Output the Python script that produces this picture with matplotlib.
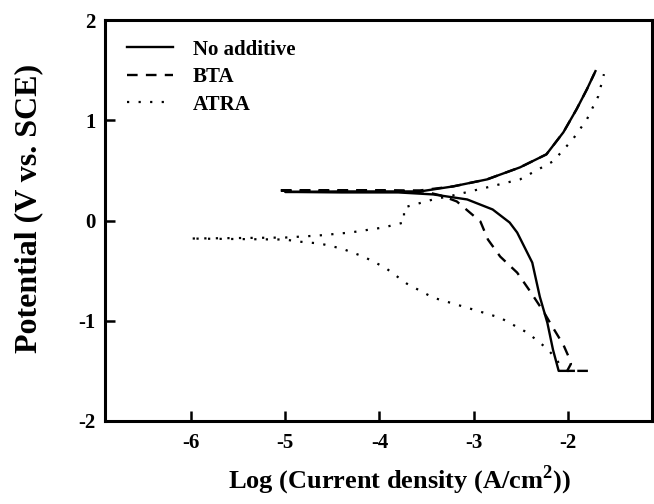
import matplotlib
matplotlib.use("Agg")
import matplotlib.pyplot as plt

# Tafel curves: log(i) [A/cm2], potential [V vs SCE]
noadd_x = [-1.94, -2.10, -2.16, -2.22, -2.30, -2.38, -2.54, -2.62, -2.80, -3.07,
           -3.43, -3.80, -4.40, -5.00, -4.40, -4.00, -3.57, -3.22, -2.86, -2.51,
           -2.23, -2.05, -1.91, -1.80, -1.71]
noadd_y = [-1.50, -1.50, -1.29, -1.02, -0.76, -0.42, -0.12, -0.02, 0.11, 0.21,
           0.26, 0.28, 0.28, 0.285, 0.29, 0.29, 0.29, 0.34, 0.41, 0.53,
           0.66, 0.88, 1.11, 1.31, 1.49]

bta_x = [-1.79, -2.01, -1.97, -1.98, -2.05, -2.16, -2.26, -2.40, -2.54, -2.72,
         -2.85, -2.93, -3.18, -3.35, -3.53, -4.30, -5.09, -4.30, -3.57, -3.22,
         -2.86, -2.51, -2.23, -2.05, -1.91, -1.80, -1.72]
bta_y = [-1.50, -1.50, -1.43, -1.39, -1.24, -1.07, -0.91, -0.71, -0.52, -0.36,
         -0.19, -0.01, 0.19, 0.25, 0.29, 0.30, 0.30, 0.30, 0.30, 0.34,
         0.41, 0.53, 0.66, 0.88, 1.11, 1.31, 1.47]

atra_x = [-2.10, -2.12, -2.22, -2.43, -2.72, -3.07, -3.43, -3.71, -3.94, -4.17,
          -4.40, -4.63, -4.86, -5.00, -6.01, -5.00, -4.65, -4.31, -3.96, -3.74,
          -3.74, -3.43, -3.22, -2.86, -2.51, -2.16, -1.95, -1.80, -1.68, -1.62]
atra_y = [-1.42, -1.39, -1.28, -1.12, -0.97, -0.87, -0.77, -0.63, -0.47, -0.36,
          -0.28, -0.23, -0.21, -0.19, -0.18, -0.17, -0.15, -0.12, -0.07, -0.02,
          0.13, 0.21, 0.25, 0.33, 0.41, 0.59, 0.81, 1.01, 1.24, 1.46]

labels = ["No additive", "BTA", "ATRA"]
xticks = [-6, -5, -4, -3, -2]
yticks = [-2, -1, 0, 1, 2]

plt.rcParams['font.family'] = ['Liberation Serif', 'DejaVu Serif']
plt.rcParams['font.weight'] = 'bold'
plt.rcParams['mathtext.fontset'] = 'custom'
plt.rcParams['mathtext.rm'] = 'Liberation Serif'
plt.rcParams['mathtext.bf'] = 'Liberation Serif:bold'

fig = plt.figure(figsize=(6.54, 5.04), dpi=100)
ax = fig.add_axes([0.1606, 0.1647, 0.8364, 0.7956])

ax.plot(noadd_x, noadd_y, color='black', lw=1.7, label=labels[0])
ax.plot(bta_x, bta_y, color='black', lw=1.7, ls=(0, (4.5, 3.5)), label=labels[1])
ax.plot(atra_x, atra_y, color='black', lw=1.6, ls=(0, (1, 4.2)), label=labels[2])

ax.set_xlim(-6.91, -1.11)
ax.set_ylim(-2, 2)
ax.set_xticks(xticks)
ax.set_yticks(yticks)
ax.set_xticklabels([str(t) for t in xticks])
ax.set_yticklabels([str(t) for t in yticks])
ax.tick_params(direction='in', length=7, width=1.8, labelsize=15)
ax.tick_params(axis='x', pad=9)
ax.tick_params(axis='y', pad=7)
for s in ax.spines.values():
    s.set_linewidth(2.2)

ax.set_xlabel("Log (Current density (A/cm$^\\mathbf{2}$))", fontsize=19,
              fontweight='bold')
ax.xaxis.set_label_coords(0.539, -0.105)
ax.set_ylabel("Potential (V vs. SCE)", fontsize=23, fontweight='bold')
ax.yaxis.set_label_coords(-0.113, 0.531)

leg = ax.legend(loc='upper left', bbox_to_anchor=(0.0255, 0.972), frameon=False,
                fontsize=15, handlelength=2.2, handletextpad=0.95,
                labelspacing=0.36, borderaxespad=0)

fig.savefig("out.png", dpi=100)
